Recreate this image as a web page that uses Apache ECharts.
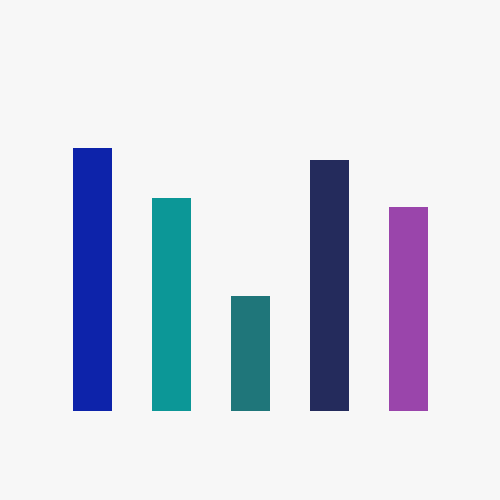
<!DOCTYPE html>
<html>
<head>
<meta charset="utf-8">
<script src="https://cdn.jsdelivr.net/npm/echarts@6/dist/echarts.min.js"></script>
<style>html,body{margin:0;padding:0;background:#f7f7f7;}#c{width:500px;height:500px;}</style>
</head>
<body>
<div id="c"></div>
<script>
const categories = ['A', 'B', 'C', 'D', 'E'];
const values = [263, 213, 115, 251, 204];
const colors = ['#0d23aa', '#0c9797', '#1f767a', '#242b5c', '#9a45ab'];

const chart = echarts.init(document.getElementById('c'), null, {renderer: 'canvas'});
chart.setOption({
  backgroundColor: '#f7f7f7',
  animation: false,
  grid: {left: 53, right: 52, top: 111, bottom: 89},
  xAxis: {type: 'category', data: categories, show: false},
  yAxis: {type: 'value', min: 0, max: 300, show: false},
  series: [{
    type: 'bar',
    barWidth: 39,
    data: values.map((v, i) => ({value: v, itemStyle: {color: colors[i]}}))
  }]
});
</script>
</body>
</html>
